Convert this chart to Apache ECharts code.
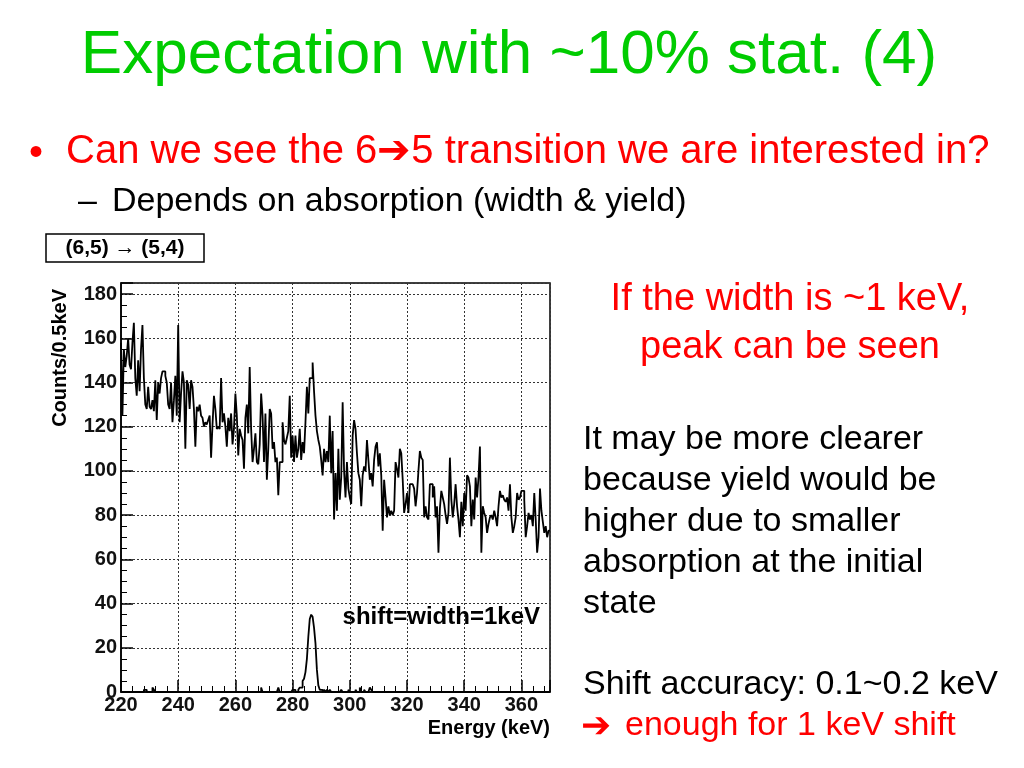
<!DOCTYPE html>
<html><head><meta charset="utf-8">
<script src="https://cdn.jsdelivr.net/npm/echarts@6/dist/echarts.min.js"></script>
<style>html,body{margin:0;padding:0;background:#fff}#c{width:1024px;height:768px}</style>
</head><body><div id="c"></div>
<script>
// ---- data ----
const xMin = 220, xMax = 370, binWidth = 0.5;
const yMin = 0, yMax = 185;
const xTickLabels = [220, 240, 260, 280, 300, 320, 340, 360];
const yTickLabels = [0, 20, 40, 60, 80, 100, 120, 140, 160, 180];

// measured spectrum (counts per 0.5 keV bin, starting at 220 keV)
const backgroundCounts = [
  158,125,155,147,152,160,148,146,158,167,
  142,134,150,136,155,166,142,130,128,138,
  129,128,132,127,141,123,140,135,142,145,
  145,143,140,130,128,140,122,132,143,125,
  166,122,135,145,140,110,141,139,128,141,
  138,128,111,129,127,130,125,124,120,122,
  121,123,125,106,121,134,128,119,120,119,
  142,122,126,120,111,124,118,126,112,119,
  135,125,107,119,116,114,101,124,130,117,
  147,119,104,110,117,104,103,112,135,125,
  104,126,96,110,128,126,110,113,104,106,
  89,104,104,122,114,112,115,118,134,106,
  116,104,116,106,110,119,105,113,108,122,
  138,126,142,142,149,136,125,118,114,111,
  105,98,110,104,109,104,125,99,118,78,
  99,82,110,87,97,131,100,88,104,92,
  88,85,116,123,119,108,99,96,84,98,
  102,100,114,105,96,99,93,105,111,113,
  102,108,98,73,96,88,79,84,80,82,
  80,82,104,101,97,110,108,96,81,85,
  90,81,94,94,94,92,84,90,100,109,
  106,105,79,84,79,78,94,94,88,93,
  79,84,63,83,91,88,85,80,76,81,
  106,87,79,85,94,84,78,70,86,75,
  90,82,98,97,93,75,87,78,97,88,
  97,111,63,84,81,79,72,76,79,80,
  78,82,79,75,84,91,88,89,87,86,
  88,82,94,79,72,75,79,90,87,88,
  91,91,87,70,75,81,78,80,75,90,
  78,63,70,92,82,77,72,75,70,73
];

// expected signal peak (counts per 0.5 keV bin, starting at 220 keV)
const signalCounts = [
  0,0,0,0,0,0,0,0,0,0,0,0,0,0,0,0,1,1,0,0,
  0,0,2,1,0,0,0,0,0,0,0,0,0,0,0,0,0,0,0,0,
  0,0,0,0,0,0,0,0,0,0,0,0,0,0,0,0,0,0,0,0,
  0,0,0,0,0,0,0,0,0,0,0,0,0,0,0,0,0,0,0,0,
  0,0,0,0,0,0,0,0,0,0,0,0,0,0,0,0,0,0,2,0,
  0,0,0,0,0,0,0,0,0,0,2,0,0,0,0,0,0,0,0,0,
  1,1,0,0,1,2,2,5,6,9,15,25,33,35,34,29,22,10,3,1,
  1,0,1,0,1,0,1,0,0,0,0,0,0,0,1,0,0,0,0,1,
  0,0,0,0,1,0,0,2,0,0,1,0,0,0,2,1,0,0,0,0,
  0,0,0,0,0,0,0,0,0,0,0,0,0,0,0,0,0,0,0,0,
  0,0,0,0,0,0,0,0,0,0,0,0,0,0,0,0,0,0,0,0,
  0,0,0,0,0,0,0,0,0,0,0,0,0,0,0,0,0,0,0,0,
  0,0,0,0,0,0,0,0,0,0,0,0,0,0,0,0,0,0,0,0,
  0,0,0,0,0,0,0,0,0,0,0,0,0,0,0,0,0,0,0,0,
  0,0,0,0,0,0,0,0,0,0,0,0,0,0,0,0,0,0,0,0
];

const slideTitle = 'Expectation with ~10% stat. (4)';
const bullet1 = 'Can we see the 6\u27945 transition we are interested in?';
const bullet2 = 'Depends on absorption (width & yield)';
const boxLabel = '(6,5) \u2192 (5,4)';
const plotNote = 'shift=width=1keV';
const redNote = ['If the width is ~1 keV,', 'peak can be seen'];
const blackNote = ['It may be more clearer', 'because yield would be', 'higher due to smaller', 'absorption at the initial', 'state'];
const accuracyLine = 'Shift accuracy: 0.1~0.2 keV';
const enoughLine = 'enough for 1 keV shift';
const xName = 'Energy (keV)';
const yName = 'Counts/0.5keV';

// ---- build ----
function toStep(counts) {
  const d = counts.map((c, i) => [xMin + i * binWidth, c]);
  d.push([xMax, counts[counts.length - 1]]);
  return d;
}

const F = '"Liberation Sans", Arial, sans-serif';
const chart = echarts.init(document.getElementById('c'), null, {renderer: 'canvas'});

const axisCommon = {
  axisLine: {show: true, onZero: false, lineStyle: {color: '#000', width: 1.5}},
  axisTick: {show: true, inside: true, length: 12, lineStyle: {color: '#000', width: 1.5}},
  minorTick: {show: true, length: 6, lineStyle: {color: '#000', width: 1}},
  splitLine: {show: true, lineStyle: {type: [2, 2], color: '#333', width: 1}},
  axisLabel: {fontFamily: F, fontWeight: 'bold', fontSize: 20, color: '#111'}
};

function txt(text, x, y, size, color, opts) {
  opts = opts || {};
  return {
    type: 'text', x: x, y: y, z: 100, rotation: opts.rotation || 0,
    style: {
      text: text, fill: color,
      font: (opts.bold ? 'bold ' : '') + size + 'px ' + F,
      align: opts.align || 'left', verticalAlign: 'middle'
    }
  };
}

const graphics = [
  txt(slideTitle, 509, 56, 62, '#00cc00', {align: 'center'}),
  txt('\u2022', 29, 154, 40, '#ff0000'),
  txt(bullet1, 66, 152, 40, '#ff0000'),
  txt('\u2013', 78, 202, 34, '#000'),
  txt(bullet2, 112, 202, 34, '#000'),
  {type: 'rect', z: 99, shape: {x: 46, y: 234, width: 158, height: 28}, style: {fill: '#fff', stroke: '#000', lineWidth: 1.5}},
  txt(boxLabel, 125, 248, 21, '#000', {align: 'center', bold: true}),
  txt(redNote[0], 790, 300, 38, '#ff0000', {align: 'center'}),
  txt(redNote[1], 790, 348, 38, '#ff0000', {align: 'center'}),
  txt(accuracyLine, 583, 685, 34, '#000'),
  txt('\u2794', 581, 727, 36, '#ff0000'),
  txt(enoughLine, 625, 726, 34, '#ff0000'),
  txt(plotNote, 540, 617, 24, '#000', {align: 'right', bold: true}),
  txt(xName, 550, 728, 20, '#000', {align: 'right', bold: true}),
  txt(yName, 60, 289, 20, '#000', {align: 'right', bold: true, rotation: Math.PI / 2})
];
blackNote.forEach((t, i) => graphics.push(txt(t, 583, 440 + i * 41, 34, '#000')));

chart.setOption({
  animation: false,
  backgroundColor: '#fff',
  grid: {left: 121, top: 283, width: 429, height: 409, show: true, borderColor: '#000', borderWidth: 1.5, backgroundColor: '#fff'},
  xAxis: Object.assign({}, axisCommon, {
    type: 'value', min: xMin, max: xMax, interval: 20,
    minorTick: Object.assign({}, axisCommon.minorTick, {splitNumber: 5}),
    axisLabel: Object.assign({}, axisCommon.axisLabel, {
      margin: 3,
      formatter: v => xTickLabels.indexOf(v) >= 0 ? String(v) : ''
    })
  }),
  yAxis: Object.assign({}, axisCommon, {
    type: 'value', min: yMin, max: yMax, interval: 20,
    minorTick: Object.assign({}, axisCommon.minorTick, {splitNumber: 4}),
    axisLabel: Object.assign({}, axisCommon.axisLabel, {
      margin: 4,
      formatter: v => yTickLabels.indexOf(v) >= 0 ? String(v) : ''
    })
  }),
  series: [
    {type: 'line', name: 'measured', step: 'end', symbol: 'none', data: toStep(backgroundCounts),
     lineStyle: {color: '#000', width: 1.8}, clip: true, z: 3},
    {type: 'line', name: 'signal', step: 'end', symbol: 'none', data: toStep(signalCounts),
     lineStyle: {color: '#000', width: 1.8}, clip: true, z: 3}
  ],
  graphic: graphics
});
</script>
</body></html>
